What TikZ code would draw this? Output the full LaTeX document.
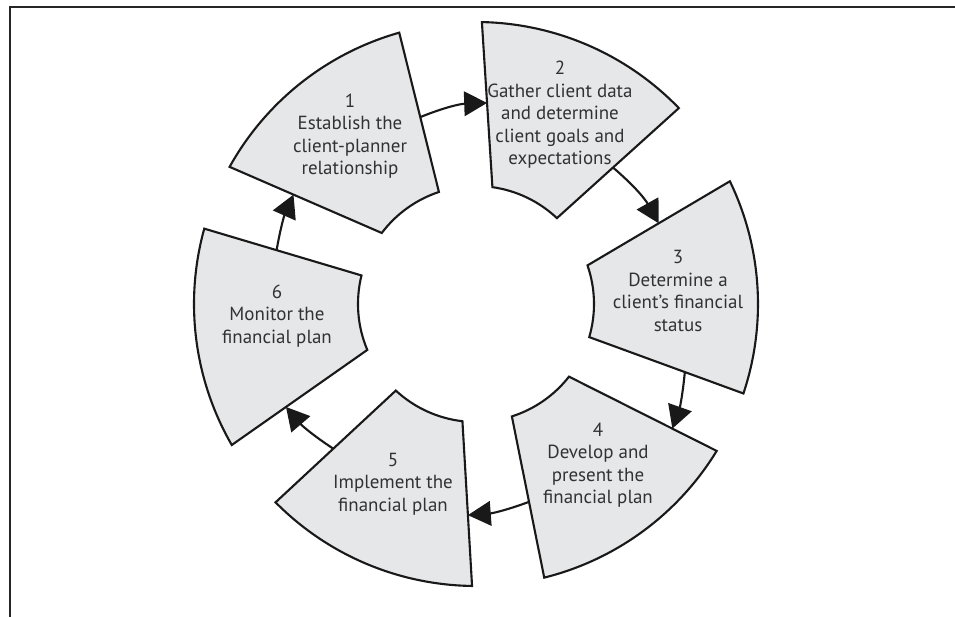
\documentclass[tikz,border=0pt]{standalone}
\usepackage{fontspec}
\setmainfont{PT Sans}
\usetikzlibrary{arrows.meta,calc}
\definecolor{segfill}{RGB}{230,231,233}
\definecolor{segtext}{RGB}{50,50,50}

\begin{document}
\begin{tikzpicture}[
    x=0.2mm, y=0.2mm,
    seg/.style={
        draw=black!90,
        line width=1.2pt,
        fill=segfill,
        line join=miter
    },
    steptext/.style={
        text=segtext,
        align=center,
        font=\fontsize{10.8}{12.8}\selectfont
    },
    arrow/.style={
        -{Triangle[length=13pt,width=14pt]},
        line width=1.2pt,
        black!90
    }
]
    % Canvas and frame
    \useasboundingbox (-476,-313) rectangle (479,304);
    \draw[line width=0.8pt, black!85] (479,297) -- (-466,297) -- (-466,-313);

    % Ring segments (outer arc, then inner arc back)
    \draw[seg] (150.9:282) arc[start angle=150.9, end angle=105.8, radius=282] -- (108.3:118) arc[start angle=108.3, end angle=143, radius=118] -- cycle;
    \draw[seg] (88.8:282) arc[start angle=88.8, end angle=44, radius=282] -- (46.7:118) arc[start angle=46.7, end angle=82, radius=118] -- cycle;
    \draw[seg] (25.8:282) arc[start angle=25.8, end angle=-18.5, radius=282] -- (-16.3:118) arc[start angle=-16.3, end angle=19.1, radius=118] -- cycle;
    \draw[seg] (-31.4:282) arc[start angle=-31.4, end angle=-76, radius=282] -- (-72.3:118) arc[start angle=-72.3, end angle=-38, radius=118] -- cycle;
    \draw[seg] (-90.8:282) arc[start angle=-90.8, end angle=-135.3, radius=282] -- (-132.8:118) arc[start angle=-132.8, end angle=-96.6, radius=118] -- cycle;
    \draw[seg] (210:282) arc[start angle=210, end angle=164.5, radius=282] -- (166:118) arc[start angle=166, end angle=202.9, radius=118] -- cycle;

    % Step texts
    \node[steptext] (s1) at (-126,168) {1\\Establish the\\client-planner\\relationship};
    \node[steptext] (s2) at (84,189) {2\\Gather client data\\and determine\\client goals and\\expectations};
    \node[steptext] (s3) at (202,13) {3\\Determine a\\client’s financial\\status};
    \node[steptext] (s4) at (122,-161) {4\\Develop and\\present the\\financial plan};
    \node[steptext] (s5) at (-83,-180) {5\\Implement the\\financial plan};
    \node[steptext] (s6) at (-199,-12) {6\\Monitor the\\financial plan};

    % Arrow ends on the segment edges
    \coordinate (o1) at ($(105.8:282)!0.53!(108.3:118)$);
    \coordinate (i2) at ($(88.8:282)!0.49!(82:118)$);
    \coordinate (o2) at ($(44:282)!0.54!(46.7:118)$);
    \coordinate (i3) at ($(25.8:282)!0.50!(19.1:118)$);
    \coordinate (o3) at ($(-18.5:282)!0.38!(-16.3:118)$);
    \coordinate (i4) at ($(-31.4:282)!0.30!(-38:118)$);
    \coordinate (o4) at ($(-76:282)!0.47!(-72.3:118)$);
    \coordinate (i5) at ($(-90.8:282)!0.43!(-96.6:118)$);
    \coordinate (o5) at ($(-135.3:282)!0.48!(-132.8:118)$);
    \coordinate (i6) at ($(210:282)!0.40!(202.9:118)$);
    \coordinate (o6) at ($(164.5:282)!0.46!(166:118)$);
    \coordinate (i1) at ($(150.9:282)!0.42!(143:118)$);

    % Connecting arrows
    \draw[arrow] (o1) to[bend left=10] (i2);
    \draw[arrow] (o2) to[bend left=10] (i3);
    \draw[arrow] (o3) to[bend left=7] (i4);
    \draw[arrow] (o4) to[bend left=8] (i5);
    \draw[arrow] (o5) to[bend left=8] (i6);
    \draw[arrow] (o6) to[bend left=7] (i1);
\end{tikzpicture}
\end{document}
